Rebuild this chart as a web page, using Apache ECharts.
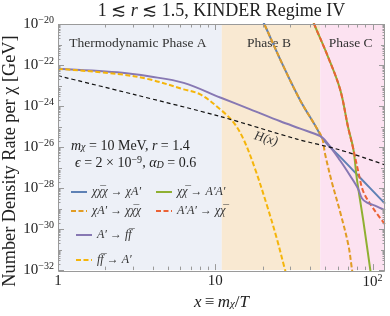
<!DOCTYPE html>
<html><head><meta charset="utf-8">
<script src="https://cdn.jsdelivr.net/npm/echarts@6/dist/echarts.min.js"></script>
<style>html,body{margin:0;padding:0;background:#fff}#c{width:390px;height:316px}</style>
</head><body><div id="c"></div>
<script>
// ---------- data ----------
const xRange = [1, 120];
const yRange = [1e-32, 1e-20];
const yLabelExponents = [-32, -20];          // labelled every 2 decades
const phaseBounds = [1, 11, 46.5, 120];
const phaseNames = ['Thermodynamic Phase A', 'Phase B', 'Phase C'];
const phaseColors = ['#edf0f7', '#f9e9d2', '#fce2f1'];

// chi chibar chi -> chi A'
const blueX = [18.75, 20.76, 27.0, 34.7, 43.8, 47.8, 53.7, 62.2, 83.4, 120];
const blueY = [4.25e-20, 8.0e-21, 9.3e-23, 1.88e-24, 9.3e-26, 2.75e-26, 1e-26, 3.3e-27, 3.2e-28, 1.74e-29];
// chi chibar -> A'A'
const greenX = [40.7, 42.5, 51.8, 62.2, 69.9, 75.5, 79.4, 87.5, 96.4, 99.3];
const greenY = [2.4e-20, 1e-20, 2.8e-22, 6.5e-24, 9.3e-26, 7.9e-27, 3.0e-28, 2.3e-30, 1.26e-32, 2.3e-33];
// chi A' -> chi chibar chi
const orangeX = [18.75, 20.76, 27.0, 34.7, 43.8, 47.8, 49.9, 55.1, 62.2, 70.2, 73.8, 76.3];
const orangeY = [4.25e-20, 8.0e-21, 9.3e-23, 1.88e-24, 9.3e-26, 2.75e-26, 4.6e-27, 1.95e-28, 6.9e-30, 1.66e-31, 1.26e-32, 2.3e-33];
// A'A' -> chi chibar
const redX = [40.7, 42.5, 51.8, 62.2, 69.9, 75.5, 81.3, 87.5, 101.2, 120];
const redY = [2.4e-20, 1e-20, 2.8e-22, 6.5e-24, 9.3e-26, 7.9e-27, 6e-28, 6.5e-29, 1e-29, 1.7e-30];
// A' -> f fbar
const purpleX = [1, 2.38, 3.86, 6.30, 10.76, 16.7, 25.9, 34.7, 46.5, 51.2, 62.2, 71.9, 80.9, 85.7, 92.3, 103.7, 120];
const purpleY = [6.6e-23, 4.4e-23, 2.75e-23, 1.35e-23, 2.6e-24, 6.9e-25, 1.8e-25, 7.9e-26, 3.4e-26, 1.7e-26, 2.2e-27, 4.1e-28, 9.3e-29, 3.1e-29, 1.95e-29, 1.4e-29, 8.3e-30];
// f fbar -> A'
const yellowX = [1, 2.38, 3.86, 6.30, 8.03, 10.76, 13.06, 15.1, 17.9, 21.3, 24.6, 27.8, 29.9];
const yellowY = [6.5e-23, 3.7e-23, 1.95e-23, 6.5e-24, 3.7e-24, 6.9e-25, 1.6e-25, 2.45e-26, 8.7e-28, 1.45e-29, 3.5e-31, 1e-32, 1.35e-33];
// Hubble rate H(x)
const hubbleX = [1, 3.03, 10.76, 33.0, 62.2, 120];
const hubbleY = [3e-23, 3.7e-24, 3.1e-25, 2.45e-26, 7.2e-27, 1.35e-27];

const seriesNames = [
  '\u03c7\u03c7\u0305\u03c7 \u2192 \u03c7A\u2032',
  '\u03c7\u03c7\u0305 \u2192 A\u2032A\u2032',
  '\u03c7A\u2032 \u2192 \u03c7\u03c7\u0305\u03c7',
  'A\u2032A\u2032 \u2192 \u03c7\u03c7\u0305',
  'A\u2032 \u2192 ff\u0305',
  'ff\u0305 \u2192 A\u2032'
];
const colors = ['#5e81b5', '#8fb032', '#e19c24', '#eb6235', '#8778b3', '#f5b50a'];

// ---------- helpers ----------
const serif = '"Liberation Serif", "DejaVu Serif", serif';
const pts = (xs, ys) => xs.map((x, i) => [x, ys[i]]);

function lineSeries(name, xs, ys, color, dashed, z) {
  return {
    type: 'line', name, data: pts(xs, ys), showSymbol: false, symbol: 'none',
    smooth: 0.35, clip: true, z,
    lineStyle: { color, width: 2, type: dashed ? [5, 2.5] : 'solid' },
    itemStyle: { color }, emphasis: { disabled: true }
  };
}

// tick marks on the frame (values go through the axis scales)
const tickData = [];
for (let d = 0; d <= 2; d++) {
  const base = Math.pow(10, d);
  tickData.push([base, yRange[0], 0, 6]);
  for (let k = 2; k <= 9; k++) {
    const v = k * base;
    if (v <= xRange[1]) tickData.push([v, yRange[0], 0, 3.5]);
  }
}
for (let e = -32; e <= -20; e++) {
  const base = Math.pow(10, e);
  tickData.push([xRange[0], base, 1, (e % 2 === 0) ? 6 : 4]);
  if (e < -20) for (let k = 2; k <= 9; k++) tickData.push([xRange[0], k * base, 1, 2.5]);
}

function renderTick(params, api) {
  const v0 = api.value(0), v1 = api.value(1), kind = api.value(2), len = api.value(3);
  const st = { stroke: '#9a9a9a', lineWidth: 1 };
  if (kind === 0) {
    const b = api.coord([v0, yRange[0]]);
    const t = api.coord([v0, yRange[1]]);
    const x = Math.round(b[0]) + 0.5;
    return { type: 'group', children: [
      { type: 'line', shape: { x1: x, y1: b[1], x2: x, y2: b[1] - len }, style: st },
      { type: 'line', shape: { x1: x, y1: t[1], x2: x, y2: t[1] + len }, style: st }
    ]};
  } else {
    const l = api.coord([xRange[0], v1]);
    const r = api.coord([xRange[1], v1]);
    const y = Math.round(l[1]) + 0.5;
    return { type: 'group', children: [
      { type: 'line', shape: { x1: l[0], y1: y, x2: l[0] + len, y2: y }, style: st },
      { type: 'line', shape: { x1: r[0], y1: y, x2: r[0] - len, y2: y }, style: st }
    ]};
  }
}

const supRich = {
  b: { fontFamily: serif, fontSize: 15, color: '#222' },
  s: { fontFamily: serif, fontSize: 10, color: '#222', padding: [0, 0, 7, 0] }
};

const legendPos = [[70, 186], [155, 186], [70, 205], [155, 205], [75, 229], [75, 254]];
const legends = seriesNames.map((n, i) => ({
  data: [n], left: legendPos[i][0], top: legendPos[i][1], itemWidth: 16, itemHeight: 12,
  padding: 0, selectedMode: false,
  itemStyle: { color: 'rgba(0,0,0,0)', borderColor: 'rgba(0,0,0,0)', borderWidth: 0 },
  textStyle: { fontFamily: serif, fontSize: 12, fontStyle: 'italic', color: '#333' }
}));

const phaseArea = {
  silent: true,
  data: phaseNames.map((n, i) => [
    { xAxis: phaseBounds[i], name: n, itemStyle: { color: phaseColors[i] } },
    { xAxis: phaseBounds[i + 1] }
  ]),
  label: { show: true, position: 'insideTop', distance: 12, offset: [-2, 0], fontFamily: serif, fontSize: 13.5, color: '#333' }
};

const mathRich = (fs) => ({
  i: { fontFamily: serif, fontSize: fs, fontStyle: 'italic', fill: '#222', padding: [0, 0, 3, 0] },
  n: { fontFamily: serif, fontSize: fs, fill: '#222', padding: [0, 0, 3, 0] },
  sb: { fontFamily: serif, fontSize: fs * 0.72, fontStyle: 'italic', fill: '#222' },
  sp: { fontFamily: serif, fontSize: fs * 0.72, fill: '#222', padding: [0, 0, fs * 0.75, 0] }
});

const chart = echarts.init(document.getElementById('c'));
chart.setOption({
  animation: false,
  backgroundColor: '#fff',
  legend: legends,
  grid: { left: 58, right: 5, top: 24, bottom: 44, containLabel: false },
  xAxis: [{
    type: 'log', logBase: 10, min: xRange[0], max: xRange[1],
    axisLine: { show: false }, axisTick: { show: false }, splitLine: { show: false },
    axisLabel: {
      margin: 3,
      formatter: v => (Math.abs(v - 100) < 1e-6 ? '{b|10}{s|2}' : '{b|' + v + '}'),
      rich: supRich
    },
    name: '{i|x} {n|\u2261} {i|m}{sb|\u03c7}{n|/}{i|T}', nameLocation: 'middle', nameGap: 22,
    nameTextStyle: { rich: {
      i: { fontFamily: serif, fontSize: 17, fontStyle: 'italic', color: '#222', padding: [0, 0, 3, 0] },
      n: { fontFamily: serif, fontSize: 17, color: '#222', padding: [0, 0, 3, 0] },
      sb: { fontFamily: serif, fontSize: 11, fontStyle: 'italic', color: '#222' }
    } }
  }],
  yAxis: [{
    type: 'log', logBase: 10, min: yRange[0], max: yRange[1],
    axisLine: { show: false }, axisTick: { show: false }, splitLine: { show: false },
    axisLabel: { show: false }
  }, {
    type: 'value', position: 'left', min: yLabelExponents[0], max: yLabelExponents[1], interval: 2,
    axisLine: { show: false }, axisTick: { show: false }, splitLine: { show: false },
    axisLabel: { margin: 4, formatter: v => '{b|10}{s|\u2212' + Math.abs(v) + '}', rich: supRich }
  }],
  graphic: [
    { type: 'rect', shape: { x: 58.5, y: 24.5, width: 326, height: 247 },
      style: { fill: null, stroke: '#9a9a9a', lineWidth: 1 }, z: 100, silent: true },
    { type: 'text', x: 221.5, y: 11, z: 50, silent: true, style: {
      text: '{n|1 \u2272 }{i|r}{n| \u2272 1.5, KINDER Regime IV}',
      align: 'center', verticalAlign: 'middle',
      rich: {
        n: { fontFamily: serif, fontSize: 18, fill: '#222' },
        i: { fontFamily: serif, fontSize: 18, fontStyle: 'italic', fill: '#222' }
      } } },
    { type: 'text', x: 10, y: 161, rotation: Math.PI / 2, z: 50, silent: true, style: {
      text: 'Number Density Rate per \u03c7 [GeV]', fontFamily: serif, fontSize: 18.3, fill: '#222',
      align: 'center', verticalAlign: 'middle' } },
    { type: 'text', left: 71, top: 139, z: 50, silent: true, style: {
      text: '{i|m}{sb|\u03c7}{n| = 10 MeV, }{i|r}{n| = 1.4}', rich: mathRich(14) } },
    { type: 'text', left: 75, top: 155, z: 50, silent: true, style: {
      text: '{i|\u03f5}{n| = 2 \u00d7 10}{sp|\u22129}{n|, }{i|\u03b1}{sb|D}{n| = 0.6}', rich: mathRich(14) } },
    { type: 'text', x: 266, y: 139, rotation: -0.27, z: 50, silent: true, style: {
      text: 'H(x)', fontFamily: serif, fontSize: 13, fontStyle: 'italic', fill: '#333',
      align: 'center', verticalAlign: 'middle' } }
  ],
  series: [
    { type: 'line', name: 'phases', data: [[xRange[0], yRange[0]]], symbol: 'none', z: 1,
      lineStyle: { opacity: 0 }, markArea: phaseArea },
    lineSeries(seriesNames[0], blueX, blueY, colors[0], false, 3),
    lineSeries(seriesNames[1], greenX, greenY, colors[1], false, 3),
    lineSeries(seriesNames[2], orangeX, orangeY, colors[2], true, 3),
    lineSeries(seriesNames[3], redX, redY, colors[3], true, 3),
    lineSeries(seriesNames[4], purpleX, purpleY, colors[4], false, 3),
    lineSeries(seriesNames[5], yellowX, yellowY, colors[5], true, 3),
    { type: 'line', name: 'H', data: pts(hubbleX, hubbleY), symbol: 'none', showSymbol: false,
      smooth: 0.3, z: 3, lineStyle: { color: '#111', width: 1.2, type: [4, 3] } },
    { type: 'custom', name: 'ticks', data: tickData, renderItem: renderTick, z: 90, silent: true,
      encode: { x: 0, y: 1 } }
  ]
});
</script></body></html>
